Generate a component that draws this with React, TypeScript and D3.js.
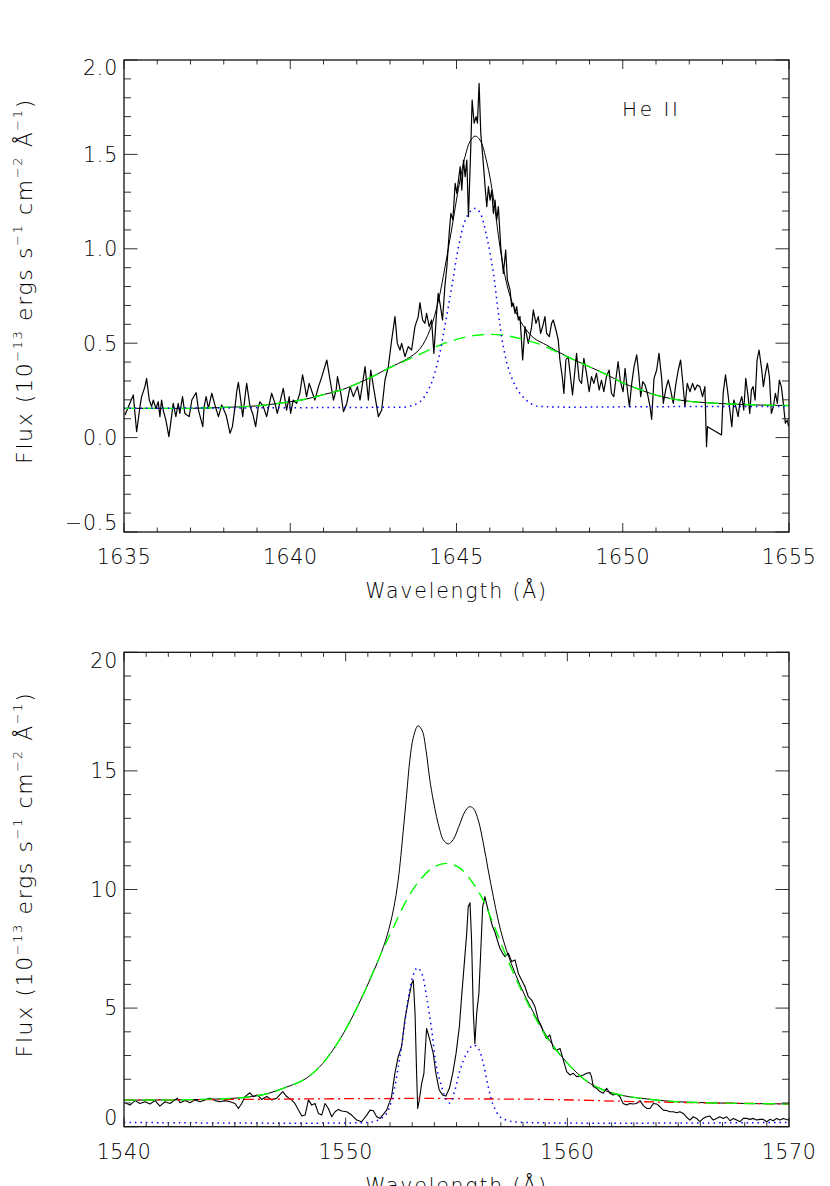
import React from "react";
import * as d3 from "d3";

type Pt = [number, number];

// ---------------- Top panel: He II 1640 ----------------
const heWaveRange: [number, number] = [1635, 1655];
const heFluxRange: [number, number] = [-0.5, 2.0];
const heWaveTicks = [1635, 1640, 1645, 1650, 1655];
const heWaveTickLabels = ["1635", "1640", "1645", "1650", "1655"];
const heFluxTicks = [-0.5, 0, 0.5, 1.0, 1.5, 2.0];
const heFluxTickLabels = ["\u22120.5", "0.0", "0.5", "1.0", "1.5", "2.0"];
const heLineLabel = "He II";

const heObserved: Pt[] = [
  [1635.03, 0.12], [1635.28, 0.226], [1635.38, 0.031], [1635.48, 0.164], [1635.53, 0.217], [1635.63, 0.27], [1635.68, 0.314],
  [1635.76, 0.199], [1635.83, 0.164], [1635.88, 0.199], [1635.96, 0.155], [1636.03, 0.19], [1636.08, 0.111], [1636.13, 0.199],
  [1636.18, 0.146], [1636.26, 0.093], [1636.35, 0.005], [1636.43, 0.111], [1636.48, 0.181], [1636.56, 0.111], [1636.63, 0.181],
  [1636.68, 0.128], [1636.76, 0.217], [1636.83, 0.128], [1636.96, 0.111], [1637.04, 0.199], [1637.17, 0.238], [1637.24, 0.146],
  [1637.37, 0.058], [1637.41, 0.164], [1637.47, 0.217], [1637.54, 0.155], [1637.64, 0.235], [1637.72, 0.181], [1637.84, 0.111],
  [1637.94, 0.173], [1638.07, 0.12], [1638.19, 0.023], [1638.26, 0.058], [1638.34, 0.164], [1638.39, 0.243], [1638.44, 0.293],
  [1638.51, 0.199], [1638.57, 0.111], [1638.64, 0.217], [1638.69, 0.287], [1638.79, 0.164], [1638.87, 0.128], [1638.96, 0.058],
  [1639.04, 0.164], [1639.09, 0.19], [1639.19, 0.164], [1639.29, 0.111], [1639.44, 0.235], [1639.54, 0.181], [1639.61, 0.128],
  [1639.79, 0.261], [1639.89, 0.146], [1639.97, 0.217], [1640.01, 0.128], [1640.09, 0.199], [1640.19, 0.181], [1640.29, 0.235],
  [1640.37, 0.332], [1640.44, 0.27], [1640.49, 0.217], [1640.57, 0.287], [1640.67, 0.235], [1640.74, 0.199], [1640.85, 0.27],
  [1640.95, 0.323], [1641.1, 0.411], [1641.18, 0.323], [1641.3, 0.199], [1641.38, 0.252], [1641.42, 0.323], [1641.52, 0.235],
  [1641.6, 0.137], [1641.7, 0.181], [1641.8, 0.27], [1641.9, 0.217], [1642.02, 0.27], [1642.1, 0.199], [1642.25, 0.376],
  [1642.35, 0.199], [1642.42, 0.358], [1642.52, 0.25], [1642.65, 0.111], [1642.75, 0.146], [1642.85, 0.305], [1642.95, 0.376],
  [1643.05, 0.517], [1643.15, 0.641], [1643.22, 0.499], [1643.3, 0.464], [1643.35, 0.499], [1643.45, 0.429], [1643.55, 0.482],
  [1643.65, 0.464], [1643.75, 0.588], [1643.85, 0.641], [1643.9, 0.715], [1643.98, 0.623], [1644.05, 0.605], [1644.1, 0.658],
  [1644.18, 0.588], [1644.25, 0.623], [1644.32, 0.446], [1644.4, 0.658], [1644.45, 0.764], [1644.52, 0.694], [1644.58, 0.623],
  [1644.65, 0.8], [1644.71, 0.905], [1644.78, 1.082], [1644.83, 1.188], [1644.89, 1.153], [1644.96, 1.347], [1645.01, 1.294],
  [1645.06, 1.364], [1645.11, 1.435], [1645.16, 1.311], [1645.21, 1.47], [1645.26, 1.382], [1645.31, 1.47], [1645.36, 1.17],
  [1645.43, 1.541], [1645.47, 1.788], [1645.53, 1.665], [1645.59, 1.7], [1645.63, 1.665], [1645.68, 1.876], [1645.73, 1.612],
  [1645.79, 1.488], [1645.86, 1.329], [1645.91, 1.223], [1645.96, 1.329], [1646.01, 1.258], [1646.06, 1.311], [1646.11, 1.188],
  [1646.16, 1.258], [1646.21, 1.153], [1646.26, 1.223], [1646.33, 1.011], [1646.41, 0.87], [1646.48, 0.994], [1646.53, 0.835],
  [1646.61, 0.782], [1646.66, 0.694], [1646.71, 0.711], [1646.76, 0.658], [1646.81, 0.694], [1646.86, 0.623], [1646.91, 0.641],
  [1646.99, 0.411], [1647.06, 0.588], [1647.16, 0.499], [1647.26, 0.588], [1647.31, 0.676], [1647.39, 0.605], [1647.46, 0.641],
  [1647.53, 0.552], [1647.59, 0.588], [1647.66, 0.641], [1647.71, 0.552], [1647.79, 0.535], [1647.86, 0.605], [1647.91, 0.623],
  [1647.99, 0.57], [1648.06, 0.517], [1648.11, 0.411], [1648.18, 0.323], [1648.23, 0.234], [1648.29, 0.411], [1648.36, 0.429],
  [1648.49, 0.226], [1648.61, 0.446], [1648.69, 0.305], [1648.76, 0.287], [1648.83, 0.42], [1648.91, 0.34], [1648.99, 0.243],
  [1649.06, 0.323], [1649.13, 0.287], [1649.21, 0.34], [1649.29, 0.252], [1649.36, 0.305], [1649.43, 0.243], [1649.51, 0.323],
  [1649.59, 0.358], [1649.66, 0.235], [1649.73, 0.217], [1649.79, 0.305], [1649.86, 0.402], [1649.93, 0.296], [1650.01, 0.243],
  [1650.07, 0.367], [1650.14, 0.252], [1650.2, 0.164], [1650.27, 0.287], [1650.34, 0.376], [1650.42, 0.438], [1650.48, 0.34],
  [1650.54, 0.217], [1650.6, 0.296], [1650.67, 0.279], [1650.74, 0.235], [1650.82, 0.164], [1650.87, 0.097], [1650.94, 0.314],
  [1651.02, 0.358], [1651.09, 0.446], [1651.17, 0.314], [1651.22, 0.181], [1651.3, 0.261], [1651.37, 0.305], [1651.44, 0.252],
  [1651.52, 0.181], [1651.6, 0.287], [1651.67, 0.358], [1651.74, 0.411], [1651.8, 0.305], [1651.87, 0.164], [1651.94, 0.287],
  [1652.02, 0.243], [1652.1, 0.287], [1652.17, 0.252], [1652.24, 0.279], [1652.32, 0.27], [1652.4, 0.217], [1652.47, 0.27],
  [1652.52, -0.048], [1652.55, 0.058], [1652.97, 0.014], [1653.02, 0.235], [1653.09, 0.332], [1653.15, 0.252], [1653.22, 0.146],
  [1653.28, 0.058], [1653.34, 0.199], [1653.4, 0.164], [1653.47, 0.111], [1653.52, 0.181], [1653.58, 0.217], [1653.64, 0.146],
  [1653.7, 0.314], [1653.77, 0.217], [1653.82, 0.128], [1653.87, 0.252], [1653.92, 0.27], [1653.98, 0.199], [1654.04, 0.411],
  [1654.1, 0.464], [1654.18, 0.358], [1654.23, 0.27], [1654.29, 0.34], [1654.35, 0.393], [1654.41, 0.323], [1654.47, 0.128],
  [1654.53, 0.164], [1654.59, 0.235], [1654.65, 0.181], [1654.71, 0.305], [1654.77, 0.27], [1654.83, 0.181], [1654.89, 0.076],
  [1654.95, 0.093], [1654.99, 0.058],
];

const heTotalFit: Pt[] = [
  [1635, 0.155], [1636, 0.155], [1637, 0.155], [1638, 0.16], [1639, 0.168], [1640, 0.19], [1640.5, 0.205], [1641, 0.228],
  [1641.5, 0.25], [1642, 0.285], [1642.5, 0.326], [1643, 0.372], [1643.5, 0.415], [1643.9, 0.47], [1644.2, 0.57],
  [1644.45, 0.72], [1644.65, 0.9], [1644.86, 1.11], [1645.06, 1.32], [1645.26, 1.49], [1645.41, 1.57], [1645.56, 1.597],
  [1645.71, 1.575], [1645.91, 1.46], [1646.11, 1.27], [1646.26, 1.07], [1646.41, 0.9], [1646.61, 0.75], [1646.91, 0.62],
  [1647.31, 0.53], [1647.71, 0.49], [1648, 0.46], [1648.5, 0.415], [1649, 0.375], [1649.5, 0.335], [1650, 0.29],
  [1650.5, 0.255], [1651, 0.225], [1651.5, 0.205], [1652, 0.192], [1652.5, 0.185], [1653, 0.18], [1653.5, 0.176],
  [1654, 0.173], [1654.5, 0.171], [1655, 0.17],
];

const heBroad: Pt[] = [
  [1635, 0.155], [1636, 0.155], [1637, 0.155], [1638, 0.16], [1639, 0.168], [1640, 0.19], [1640.5, 0.205], [1641, 0.228],
  [1641.5, 0.25], [1642, 0.285], [1642.5, 0.325], [1643, 0.37], [1643.5, 0.41], [1644, 0.45], [1644.5, 0.49], [1645, 0.52],
  [1645.5, 0.54], [1646, 0.547], [1646.5, 0.54], [1647, 0.52], [1647.5, 0.495], [1648, 0.455], [1648.5, 0.415],
  [1649, 0.375], [1649.5, 0.335], [1650, 0.29], [1650.5, 0.255], [1651, 0.225], [1651.5, 0.205], [1652, 0.192],
  [1652.5, 0.185], [1653, 0.18], [1653.5, 0.176], [1654, 0.173], [1654.5, 0.171], [1655, 0.17],
];

const heNarrow: Pt[] = [
  [1635, 0.155], [1638, 0.157], [1641, 0.159], [1643, 0.161], [1643.5, 0.163], [1643.9, 0.19], [1644.2, 0.27],
  [1644.45, 0.41], [1644.65, 0.59], [1644.86, 0.8], [1645.06, 1.01], [1645.26, 1.15], [1645.41, 1.197], [1645.56, 1.214],
  [1645.71, 1.19], [1645.91, 1.064], [1646.11, 0.87], [1646.26, 0.658], [1646.41, 0.48], [1646.61, 0.34], [1646.91, 0.234],
  [1647.31, 0.173], [1647.71, 0.164], [1651, 0.164], [1655, 0.165],
];

// ---------------- Bottom panel: C IV 1549 ----------------
const civWaveRange: [number, number] = [1540, 1570];
const civFluxRange: [number, number] = [0, 20];
const civWaveTicks = [1540, 1550, 1560, 1570];
const civWaveTickLabels = ["1540", "1550", "1560", "1570"];
const civFluxTicks = [0, 5, 10, 15, 20];
const civFluxTickLabels = ["0", "5", "10", "15", "20"];

const civObserved: Pt[] = [
  [1540.05, 1.01], [1540.27, 0.91], [1540.5, 1.1], [1540.72, 0.98], [1540.95, 1.05], [1541.17, 0.96], [1541.4, 1.1],
  [1541.62, 0.87], [1541.85, 1.05], [1542.08, 0.98], [1542.3, 1.13], [1542.41, 1.2], [1542.53, 1.01], [1542.75, 1.1],
  [1542.98, 1.01], [1543.2, 1.13], [1543.43, 1.05], [1543.65, 1.13], [1543.88, 1.2], [1544.11, 1.1], [1544.33, 1.05],
  [1544.56, 1.1], [1544.78, 1.05], [1545.01, 0.98], [1545.16, 0.77], [1545.31, 0.98], [1545.46, 1.27], [1545.68, 1.43],
  [1545.83, 1.27], [1546.02, 1.34], [1546.21, 1.15], [1546.44, 1.27], [1546.66, 1.13], [1546.89, 1.2], [1547.16, 1.48],
  [1547.34, 1.27], [1547.56, 1.13], [1547.71, 0.98], [1547.87, 0.7], [1548.02, 0.45], [1548.17, 0.49], [1548.32, 1.13],
  [1548.47, 0.91], [1548.62, 0.98], [1548.77, 0.56], [1548.92, 0.49], [1549.07, 0.98], [1549.22, 0.77], [1549.37, 0.42],
  [1549.52, 0.63], [1549.67, 0.73], [1549.82, 0.66], [1550.05, 0.63], [1550.27, 0.49], [1550.5, 0.28], [1550.72, 0.21],
  [1550.95, 0.49], [1551.1, 0.7], [1551.25, 0.67], [1551.4, 0.42], [1551.55, 0.35], [1551.85, 0.7], [1552.07, 1.27],
  [1552.22, 2.25], [1552.37, 2.95], [1552.52, 3.37], [1552.67, 4.5], [1552.83, 5.34], [1552.98, 6.04], [1553.05, 6.18],
  [1553.13, 4.78], [1553.2, 2.25], [1553.25, 0.77], [1553.32, 1.12], [1553.43, 1.83], [1553.53, 2.25], [1553.65, 4.14],
  [1553.8, 3.65], [1553.95, 3.09], [1554.07, 2.25], [1554.22, 1.55], [1554.37, 1.34], [1554.52, 1.29], [1554.68, 1.62],
  [1554.83, 2.25], [1554.98, 3.09], [1555.13, 4.22], [1555.23, 5.48], [1555.34, 6.75], [1555.46, 8.15], [1555.53, 9.27],
  [1555.61, 9.44], [1555.68, 7.87], [1555.76, 4.78], [1555.83, 3.51], [1555.91, 4.78], [1556.01, 5.62], [1556.09, 7.31],
  [1556.18, 9.27], [1556.28, 9.7], [1556.39, 9.27], [1556.51, 8.85], [1556.63, 8.43], [1556.73, 8.22], [1556.84, 7.87],
  [1556.96, 7.52], [1557.08, 7.31], [1557.19, 7.17], [1557.34, 7.31], [1557.49, 6.96], [1557.64, 7.03], [1557.79, 6.46],
  [1557.94, 6.18], [1558.09, 5.9], [1558.24, 5.48], [1558.39, 5.34], [1558.54, 5.06], [1558.69, 4.5], [1558.84, 4.22],
  [1558.91, 4.0], [1559.06, 3.72], [1559.21, 3.87], [1559.37, 3.3], [1559.52, 3.23], [1559.67, 3.3], [1559.82, 2.81],
  [1559.97, 2.32], [1560.12, 2.18], [1560.27, 2.25], [1560.42, 2.11], [1560.57, 2.14], [1560.72, 2.18], [1560.87, 2.25],
  [1561.02, 2.28], [1561.09, 2.11], [1561.17, 1.69], [1561.32, 1.62], [1561.47, 1.48], [1561.62, 1.41], [1561.77, 1.62],
  [1561.92, 1.41], [1562.07, 1.34], [1562.22, 1.38], [1562.37, 1.27], [1562.52, 0.98], [1562.67, 0.91], [1562.82, 0.98],
  [1562.97, 0.96], [1563.12, 0.98], [1563.28, 1.1], [1563.43, 0.89], [1563.58, 0.77], [1563.73, 0.77], [1563.88, 0.98],
  [1564.03, 0.96], [1564.18, 0.84], [1564.33, 0.7], [1564.48, 0.68], [1564.63, 0.63], [1564.78, 0.63], [1564.93, 0.59],
  [1565.08, 0.63], [1565.23, 0.56], [1565.38, 0.4], [1565.53, 0.28], [1565.68, 0.42], [1565.83, 0.35], [1565.98, 0.21],
  [1566.13, 0.35], [1566.28, 0.42], [1566.43, 0.45], [1566.58, 0.28], [1566.73, 0.35], [1566.88, 0.42], [1567.03, 0.35],
  [1567.19, 0.42], [1567.34, 0.25], [1567.49, 0.35], [1567.64, 0.28], [1567.79, 0.21], [1567.94, 0.35], [1568.09, 0.35],
  [1568.24, 0.31], [1568.39, 0.35], [1568.54, 0.28], [1568.69, 0.31], [1568.84, 0.31], [1568.99, 0.21], [1569.14, 0.31],
  [1569.29, 0.25], [1569.44, 0.35], [1569.59, 0.28], [1569.74, 0.35], [1569.97, 0.28],
];

const civTotalFit: Pt[] = [
  [1540, 1.12], [1542, 1.13], [1543.5, 1.15], [1544.5, 1.18], [1545.5, 1.24], [1546.5, 1.4], [1547.3, 1.66], [1548.1, 1.97],
  [1548.8, 2.5], [1549.4, 3.2], [1550, 4.1], [1550.5, 5.0], [1551, 6.0], [1551.55, 7.2], [1551.85, 8.0], [1552.15, 9.13],
  [1552.37, 10.4], [1552.6, 12.5], [1552.75, 14.0], [1552.9, 15.5], [1553.05, 16.4], [1553.26, 16.9], [1553.45, 16.7],
  [1553.62, 15.9], [1553.8, 14.6], [1553.95, 13.77], [1554.1, 13.07], [1554.25, 12.5], [1554.4, 12.1], [1554.63, 11.92],
  [1554.85, 12.1], [1555.16, 12.79], [1555.38, 13.28], [1555.58, 13.49], [1555.76, 13.42], [1555.98, 12.93], [1556.21, 11.95],
  [1556.43, 10.82], [1556.66, 9.7], [1556.88, 8.71], [1557.11, 7.87], [1557.41, 7.03], [1557.85, 6.0], [1558.45, 4.85],
  [1559.05, 3.85], [1559.65, 3.07], [1560.3, 2.39], [1560.9, 1.9], [1561.5, 1.6], [1562.1, 1.4], [1562.75, 1.27],
  [1563.3, 1.2], [1564.8, 1.06], [1566.3, 1.01], [1568, 0.98], [1570, 0.96],
];

const civBroad: Pt[] = [
  [1540, 1.12], [1542, 1.13], [1543.5, 1.15], [1544.5, 1.18], [1545.5, 1.24], [1546.5, 1.4], [1547.3, 1.66], [1548.1, 1.97],
  [1548.8, 2.5], [1549.4, 3.2], [1550, 4.1], [1550.5, 5.0], [1551, 6.0], [1551.55, 7.2], [1552.15, 8.4], [1552.75, 9.55],
  [1553.35, 10.4], [1553.95, 10.93], [1554.55, 11.1], [1555.15, 10.9], [1555.75, 10.26], [1556.2, 9.56], [1556.65, 8.57],
  [1557.25, 7.17], [1557.85, 5.9], [1558.45, 4.78], [1559.05, 3.8], [1559.65, 3.05], [1560.3, 2.39], [1560.9, 1.9],
  [1561.5, 1.6], [1562.1, 1.4], [1562.75, 1.27], [1563.3, 1.2], [1564.8, 1.06], [1566.3, 1.01], [1568, 0.98], [1570, 0.96],
];

const civNarrow: Pt[] = [
  [1540, 0.18], [1551.0, 0.18], [1551.3, 0.22], [1551.55, 0.32], [1551.85, 0.56], [1552.15, 1.4], [1552.37, 2.5],
  [1552.6, 3.9], [1552.83, 5.45], [1553.05, 6.4], [1553.23, 6.7], [1553.43, 6.47], [1553.65, 5.48], [1553.88, 4.08],
  [1554.1, 2.5], [1554.33, 1.69], [1554.55, 1.12], [1554.7, 1.0], [1554.93, 1.55], [1555.16, 2.39], [1555.46, 3.09],
  [1555.76, 3.44], [1555.98, 3.3], [1556.21, 2.67], [1556.43, 1.69], [1556.66, 0.91], [1556.96, 0.42], [1557.34, 0.25],
  [1557.8, 0.19], [1570, 0.18],
];

const civContinuum: Pt[] = [
  [1540, 1.12], [1545, 1.15], [1550, 1.18], [1554, 1.19], [1556, 1.17], [1558.8, 1.155], [1563.3, 1.055], [1566, 1.01],
  [1570, 0.96],
];

const xAxisTitle = "Wavelength (\u00C5)";

// ---------------- Drawing ----------------
const FONT = '"DejaVu Sans", "Liberation Sans", Arial, sans-serif';

type Series = { data: Pt[]; color: string; width: number; dash?: string; smooth?: boolean };
type Box = { left: number; right: number; top: number; bottom: number };

function YTitle({ cx, cy }: { cx: number; cy: number }) {
  const sup = { fontSize: 13 } as const;
  return (
    <text
      transform={`translate(${cx},${cy}) rotate(-90)`}
      textAnchor="middle"
      fontFamily={FONT}
      fontWeight={200}
      fontSize={22}
      letterSpacing={1.6}
      fill="#000"
    >
      Flux (10
      <tspan dy={-10} {...sup}>{"\u221213"}</tspan>
      <tspan dy={10}> ergs s</tspan>
      <tspan dy={-10} {...sup}>{"\u22121"}</tspan>
      <tspan dy={10}> cm</tspan>
      <tspan dy={-10} {...sup}>{"\u22122"}</tspan>
      <tspan dy={10}> {"\u00C5"}</tspan>
      <tspan dy={-10} {...sup}>{"\u22121"}</tspan>
      <tspan dy={10}>)</tspan>
    </text>
  );
}

function Panel(props: {
  id: string;
  box: Box;
  xDomain: [number, number];
  yDomain: [number, number];
  xTicks: number[];
  xTickLabels: string[];
  xMinorStep: number;
  yTicks: number[];
  yTickLabels: string[];
  yMinorStep: number;
  series: Series[];
  label?: string;
}) {
  const { id, box, xDomain, yDomain, xTicks, xTickLabels, xMinorStep, yTicks, yTickLabels, yMinorStep, series, label } = props;
  const x = d3.scaleLinear().domain(xDomain).range([box.left, box.right]);
  const y = d3.scaleLinear().domain(yDomain).range([box.bottom, box.top]);
  const xMinor = d3.range(xDomain[0], xDomain[1] + 1e-6, xMinorStep);
  const yMinor = d3.range(yDomain[0], yDomain[1] + 1e-6, yMinorStep);
  const xMajLen = 9, xMinLen = 4.5, yMajLen = 13.5, yMinLen = 7;
  const isMajor = (v: number, ticks: number[]) => ticks.some((t) => Math.abs(t - v) < 1e-6);

  const lineFor = (s: Series) =>
    d3
      .line<Pt>()
      .x((d) => x(d[0]))
      .y((d) => y(d[1]))
      .curve(s.smooth ? d3.curveCatmullRom.alpha(0.5) : d3.curveLinear)(s.data) || "";

  const tickStroke = "#333";
  return (
    <g>
      <defs>
        <clipPath id={id}>
          <rect x={box.left} y={box.top} width={box.right - box.left} height={box.bottom - box.top} />
        </clipPath>
      </defs>
      <g clipPath={`url(#${id})`}>
        {series.map((s, i) => (
          <path
            key={i}
            d={lineFor(s)}
            fill="none"
            stroke={s.color}
            strokeWidth={s.width}
            strokeDasharray={s.dash}
            strokeLinejoin="round"
          />
        ))}
      </g>
      {xMinor.map((v, i) => {
        const len = isMajor(v, xTicks) ? xMajLen : xMinLen;
        const px = x(v);
        return (
          <g key={`xt${i}`} stroke={tickStroke} strokeWidth={1}>
            <line x1={px} x2={px} y1={box.bottom} y2={box.bottom - len} />
            <line x1={px} x2={px} y1={box.top} y2={box.top + len} />
          </g>
        );
      })}
      {yMinor.map((v, i) => {
        const len = isMajor(v, yTicks) ? yMajLen : yMinLen;
        const py = y(v);
        return (
          <g key={`yt${i}`} stroke={tickStroke} strokeWidth={1}>
            <line x1={box.left} x2={box.left + len} y1={py} y2={py} />
            <line x1={box.right} x2={box.right - len} y1={py} y2={py} />
          </g>
        );
      })}
      <rect
        x={box.left}
        y={box.top}
        width={box.right - box.left}
        height={box.bottom - box.top}
        fill="none"
        stroke="#111"
        strokeWidth={1.3}
      />
      {xTicks.map((v, i) => (
        <text
          key={`xl${i}`}
          x={x(v)}
          y={box.bottom + 32}
          textAnchor="middle"
          fontFamily={FONT}
          fontWeight={200}
          fontSize={20.5}
          letterSpacing={0.6}
          fill="#000"
        >
          {xTickLabels[i]}
        </text>
      ))}
      {yTicks.map((v, i) => {
        const py = Math.min(Math.max(y(v), box.top + 8), box.bottom - 9);
        return (
          <text
            key={`yl${i}`}
            x={box.left - 6}
            y={py}
            dy="0.36em"
            textAnchor="end"
            fontFamily={FONT}
            fontWeight={200}
            fontSize={20.5}
            letterSpacing={0.8}
            fill="#000"
          >
            {yTickLabels[i]}
          </text>
        );
      })}
      <text
        x={(box.left + box.right) / 2}
        y={box.bottom + 66}
        textAnchor="middle"
        fontFamily={FONT}
        fontWeight={200}
        fontSize={20.5}
        letterSpacing={1.8}
        fill="#000"
      >
        {xAxisTitle}
      </text>
      <YTitle cx={32} cy={(box.top + box.bottom) / 2 - 15} />
      {label && (
        <text x={622} y={box.top + 56} fontFamily={FONT} fontWeight={200} fontSize={20} letterSpacing={2.6} fill="#000">
          {label}
        </text>
      )}
    </g>
  );
}

const BLACK = "#000";
const GREEN = "#00ff00";
const BLUE = "#0000ff";
const RED = "#ff0000";

export default function App() {
  const topBox: Box = { left: 124, right: 789, top: 60, bottom: 532 };
  const botBox: Box = { left: 124, right: 789, top: 652.3, bottom: 1126.7 };
  return (
    <svg
      width={830}
      height={1186}
      viewBox="0 0 830 1186"
      style={{ position: "absolute", left: 0, top: 0, background: "#fff" }}
    >
      <rect x={0} y={0} width={830} height={1186} fill="#fff" />
      <Panel
        id="clipTop"
        box={topBox}
        xDomain={heWaveRange}
        yDomain={heFluxRange}
        xTicks={heWaveTicks}
        xTickLabels={heWaveTickLabels}
        xMinorStep={1}
        yTicks={heFluxTicks}
        yTickLabels={heFluxTickLabels}
        yMinorStep={0.1}
        label={heLineLabel}
        series={[
          { data: heObserved, color: BLACK, width: 1.2 },
          { data: heTotalFit, color: BLACK, width: 1, smooth: true },
          { data: heBroad, color: GREEN, width: 1.4, dash: "12,7", smooth: true },
          { data: heNarrow, color: BLUE, width: 1.5, dash: "1.5,4", smooth: true },
        ]}
      />
      <Panel
        id="clipBot"
        box={botBox}
        xDomain={civWaveRange}
        yDomain={civFluxRange}
        xTicks={civWaveTicks}
        xTickLabels={civWaveTickLabels}
        xMinorStep={1}
        yTicks={civFluxTicks}
        yTickLabels={civFluxTickLabels}
        yMinorStep={1}
        series={[
          { data: civObserved, color: BLACK, width: 1.1 },
          { data: civTotalFit, color: BLACK, width: 1, smooth: true },
          { data: civContinuum, color: RED, width: 1.3, dash: "10,4,2,4", smooth: true },
          { data: civBroad, color: GREEN, width: 1.4, dash: "12,7", smooth: true },
          { data: civNarrow, color: BLUE, width: 1.5, dash: "1.5,4", smooth: true },
        ]}
      />
    </svg>
  );
}
